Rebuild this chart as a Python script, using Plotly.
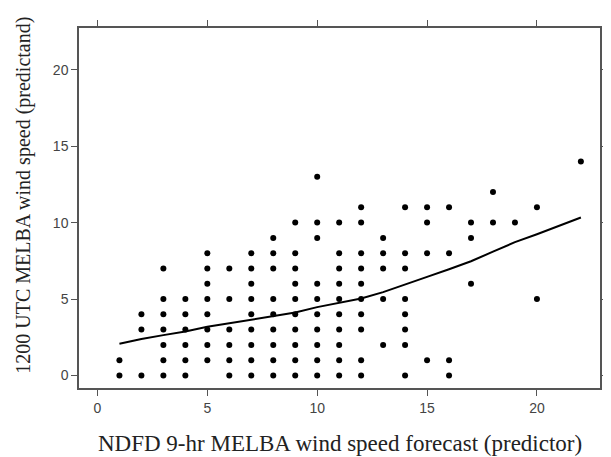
import plotly.graph_objects as go

# Observed points: predictor value -> list of predictand values
obs = {
    1: [0, 1],
    2: [0, 3, 4],
    3: [0, 1, 2, 3, 4, 5, 7],
    4: [0, 1, 2, 3, 4, 5],
    5: [1, 2, 3, 4, 5, 6, 7, 8],
    6: [0, 1, 2, 3, 5, 7],
    7: [0, 1, 2, 3, 4, 5, 6, 7, 8],
    8: [0, 1, 2, 3, 4, 5, 7, 8, 9],
    9: [0, 1, 2, 3, 4, 5, 6, 7, 8, 10],
    10: [0, 1, 2, 3, 4, 5, 6, 9, 10, 13],
    11: [0, 1, 2, 3, 4, 5, 6, 7, 8, 10],
    12: [0, 1, 3, 4, 5, 6, 7, 8, 10, 11],
    13: [2, 5, 7, 8, 9],
    14: [0, 2, 3, 4, 5, 7, 8, 11],
    15: [1, 8, 10, 11],
    16: [0, 1, 8, 11],
    17: [6, 9, 10],
    18: [10, 12],
    19: [10],
    20: [5, 11],
    22: [14],
}
pts_x = [k for k, vs in obs.items() for _ in vs]
pts_y = [v for vs in obs.values() for v in vs]

# Smoothed curve
smooth_x = [1, 2, 3, 4, 5, 6, 7, 8, 9, 10, 11, 12, 13, 14, 15, 16, 17, 18, 19, 20, 22]
smooth_y = [2.07, 2.38, 2.64, 2.88, 3.18, 3.42, 3.64, 3.86, 4.12, 4.47, 4.75,
            5.03, 5.45, 5.93, 6.45, 6.95, 7.47, 8.1, 8.72, 9.24, 10.33]

tick_vals = [0, 5, 10, 15, 20]

fig = go.Figure()
fig.add_trace(go.Scatter(x=pts_x, y=pts_y, mode="markers",
                         marker=dict(color="black", size=6, symbol="circle"),
                         showlegend=False, hoverinfo="skip"))
fig.add_trace(go.Scatter(x=smooth_x, y=smooth_y, mode="lines",
                         line=dict(color="black", width=2), showlegend=False,
                         hoverinfo="skip"))

axis_common = dict(
    showline=True, linecolor="#555", linewidth=1.5, mirror="ticks",
    ticks="outside", ticklen=6, tickcolor="#555", tickwidth=1.2,
    showgrid=False, zeroline=False, tickvals=tick_vals,
    tickfont=dict(family="Liberation Sans", size=14, color="#444"),
)
fig.update_xaxes(range=[-0.84, 22.87], **axis_common)
fig.update_yaxes(range=[-0.82, 22.73], **axis_common)

fig.update_layout(
    width=603, height=449,
    margin=dict(l=71, r=3, t=20, b=69),
    paper_bgcolor="white", plot_bgcolor="white",
    annotations=[
        dict(text="NDFD 9-hr MELBA wind speed forecast (predictor)",
             xref="paper", yref="paper", x=0.5, y=-0.155,
             xanchor="center", yanchor="middle", showarrow=False,
             font=dict(family="Liberation Serif", size=23, color="#222")),
        dict(text="1200 UTC MELBA wind speed (predictand)",
             xref="paper", yref="paper", x=-0.108, y=0.536,
             xanchor="center", yanchor="middle", showarrow=False, textangle=-90,
             font=dict(family="Liberation Serif", size=20, color="#222")),
    ],
)

fig.write_html("out.html")
